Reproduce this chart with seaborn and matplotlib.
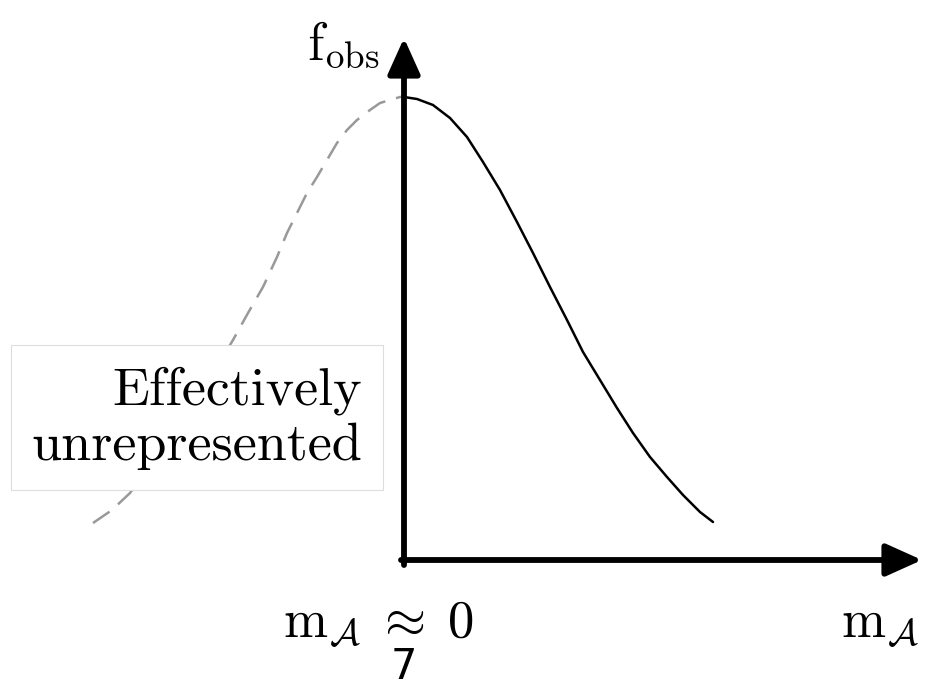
import numpy as np
import matplotlib
matplotlib.use('Agg')
import matplotlib.pyplot as plt
import seaborn as sns

x_solid = [0, 13, 29, 46, 63, 79, 96, 113, 129, 146, 163, 179, 196, 213, 229,
           246, 263, 279, 296, 309]
y_solid = [463, 461, 455, 442, 423, 398, 370, 338, 307, 273, 240, 208, 180, 152,
           127, 103, 83, 65, 48, 38]
x_dash = [-311, -292, -274, -259, -244, -224, -206, -189, -171, -156, -141, -127,
          -117, -107, -97, -87, -77, -67, -57, -47, -34, -24, -4, 0]
y_dash = [37, 50, 67, 88, 110, 137, 163, 190, 220, 247, 273, 303, 327, 347, 367,
          383, 400, 417, 430, 440, 450, 457, 463, 463]

y_label = r'$\mathrm{f}_{\mathrm{obs}}$'
x_label = r'$\mathrm{m}_{\mathcal{A}}$'
zero_label = r'$\mathrm{m}_{\mathcal{A}}\;\approx\;0$'
box_text = 'Effectively\nunrepresented'
page_no = '7'

sns.set_theme(style='white')
plt.rcParams['mathtext.fontset'] = 'cm'
plt.rcParams['text.color'] = 'black'

fig = plt.figure(figsize=(9.25, 6.84), dpi=100)
ax = fig.add_axes([0, 0, 1, 1])
ax.set_xlim(-404, 521)
ax.set_ylim(-124, 560)
ax.axis('off')

sns.lineplot(x=x_dash, y=y_dash, ax=ax, color='#999999', linewidth=1.8,
             sort=False, zorder=1)
ax.lines[-1].set_dashes([8, 4.5])
sns.lineplot(x=x_solid, y=y_solid, ax=ax, color='black', linewidth=1.8,
             sort=False, zorder=3)

arrow = dict(arrowstyle='-|>,head_length=1.0,head_width=0.45', color='black',
             lw=4.2, mutation_scale=22, shrinkA=0, shrinkB=0)
ax.annotate('', xy=(0, 522), xytext=(0, -5), arrowprops=arrow, zorder=4)
ax.annotate('', xy=(518, 0), xytext=(-3, 0), arrowprops=arrow, zorder=4)

ax.text(-24, 515, y_label, fontsize=38, ha='right', va='center')
ax.text(-26, -65, zero_label, fontsize=38, ha='center', va='center')
ax.text(476, -65, x_label, fontsize=38, ha='center', va='center')
ax.text(0, -107, page_no, fontsize=30, ha='center', va='center',
        family='DejaVu Sans')

ax.text(-42, 142, box_text, fontsize=39, family='cmr10', ha='right', va='center',
        multialignment='right', linespacing=1.2, zorder=5,
        bbox=dict(boxstyle='square,pad=0.38', facecolor='white',
                  edgecolor='#dddddd', linewidth=0.8))

fig.savefig('out.png', dpi=100, facecolor='white')
